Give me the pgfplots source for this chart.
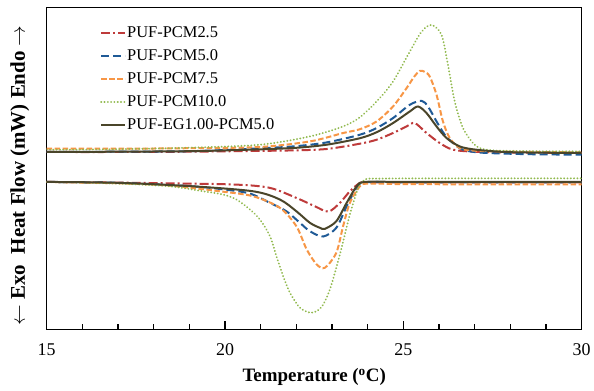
\documentclass[border=0pt]{standalone}
\usepackage{fontspec}
\setmainfont{Liberation Serif}
\usepackage{pgfplots}
\pgfplotsset{compat=1.18}
\definecolor{cred}{HTML}{BE3B3B}
\definecolor{cblue}{HTML}{1F5A96}
\definecolor{corange}{HTML}{F79646}
\definecolor{cgreen}{HTML}{92BA50}
\definecolor{colive}{HTML}{4A452A}
\begin{document}
\begin{tikzpicture}
\begin{axis}[
  at={(0,0)}, anchor=south west,
  scale only axis, width=535bp, height=322bp,
  xmin=15, xmax=30, ymin=60, ymax=382.7,
  xtick={15,20,25,30}, minor x tick num=4,
  ymajorticks=false,
  xtick pos=left,
  major tick length=8pt, minor tick length=5pt,
  tick style={black, line width=1.2pt},
  axis line style={line width=1.3bp, black},
  /pgf/number format/assume math mode=true,
  xticklabel style={font=\fontsize{18}{18}\selectfont, anchor=base, yshift=-26bp},
  xlabel={\textbf{Temperature (\textsuperscript{o}C)}},
  xlabel style={font=\fontsize{19}{19}\selectfont, at={(axis description cs:0.5,-0.149)}, anchor=center},
  ylabel={\textbf{$\leftarrow$ Exo\ \ Heat Flow (mW) Endo $\rightarrow$}},
  ylabel style={font=\fontsize{21}{21}\selectfont, at={(axis description cs:-0.05,0.478)}, anchor=center},
  legend image code/.code={\draw[#1] (0bp,0bp) -- (24bp,0bp);},
  legend cell align=left,
  legend style={draw=none, fill=none, at={(axis description cs:0.0996,0.943)}, anchor=north west,
    font=\fontsize{16.5}{16.5}\selectfont, row sep=8.5bp, inner sep=0pt,
    nodes={inner sep=1bp}},
  every axis plot/.append style={line width=2bp, smooth, tension=0.5},
]
% heating curves
\addplot[cred, dash pattern=on 9bp off 3bp on 2bp off 3bp] coordinates {
(15,237.7)(17,237.7)(19,238)(20.5,238.6)(21.91,239.3)(22.85,240.7)(23.78,246)(24.25,250)(24.71,256.7)(25.09,263.3)(25.32,266.7)(25.65,256.7)(26.02,246.7)(26.39,240)(27,238)(28,237.2)(30,236.7)};
\addlegendentry{PUF-PCM2.5}
\addplot[cblue, dash pattern=on 8bp off 4bp] coordinates {
(15,237.7)(17,238)(19,238.5)(20.5,240.5)(21.91,243.3)(22.85,247.3)(23.78,255)(24.25,261.7)(24.71,271.7)(25.18,285)(25.51,289)(25.69,283.3)(25.93,268.3)(26.16,255)(26.39,246.7)(26.67,240)(27.2,237)(28.5,235.5)(30,235)};
\addlegendentry{PUF-PCM5.0}
\addplot[corange, dash pattern=on 5.5bp off 2.5bp] coordinates {
(15,241)(17,241)(19,241.5)(20.98,242.7)(22.38,248.3)(23.31,256.7)(23.78,260.5)(24.25,268.3)(24.71,283.3)(25.09,301.7)(25.30,313)(25.46,319)(25.60,318)(25.74,313.3)(25.93,295)(26.11,268.3)(26.30,251.7)(26.58,241.7)(27,239)(28,238)(30,237.3)};
\addlegendentry{PUF-PCM7.5}
\addplot[cgreen, line cap=round, dash pattern=on 0.1bp off 3.2bp] coordinates {
(15,240)(17,240.5)(19,242)(20.98,245)(22.38,253.3)(23.31,263.3)(23.78,272.5)(24.25,288.3)(24.71,308.3)(25.18,338.3)(25.51,358.3)(25.79,365)(26.07,355)(26.25,325)(26.44,288.3)(26.67,261.7)(26.95,246.7)(27.14,241.7)(27.5,239.3)(28.5,238.5)(30,238.3)};
\addlegendentry{PUF-PCM10.0}
\addplot[colive] coordinates {
(15,237.7)(17,238)(19,238.5)(20.5,239.8)(21.91,241.7)(22.85,245)(23.78,251.5)(24.25,257.5)(24.71,266.7)(25.18,278.3)(25.41,283.3)(25.65,276.7)(25.93,263.3)(26.21,251.7)(26.58,243.3)(27.04,240)(28,237.5)(30,236.7)};
\addlegendentry{PUF-EG1.00-PCM5.0}
% cooling curves
\addplot[cred, dash pattern=on 9bp off 3bp on 2bp off 3bp] coordinates {
(15,207.7)(17,207)(18.45,206.3)(20.32,205)(21.26,201.7)(22.0,191.7)(22.52,183.3)(22.9,178)(23.22,186.7)(23.50,198.3)(23.78,206.7)(24,207.3)(25,207.3)(27,207.3)(30,207.3)};
\addplot[cblue, dash pattern=on 8bp off 4bp] coordinates {
(15,207.7)(17,206.8)(19,203.5)(20,200)(20.7,196)(21.26,186.7)(21.72,178.3)(22.10,166.7)(22.38,158.3)(22.75,153)(23.12,161.7)(23.41,183.3)(23.69,201.7)(23.95,207.3)(25,207.3)(27,207.3)(30,207.3)};
\addplot[corange, dash pattern=on 5.5bp off 2.5bp] coordinates {
(15,207.7)(17,206.3)(18.45,204)(19.86,198.3)(20.79,193.3)(21.54,181.7)(22.0,163.3)(22.29,140)(22.57,125)(22.80,121.7)(23.12,136.7)(23.31,163.3)(23.50,186.7)(23.78,203.3)(24.01,206)(25,205.5)(27,205.3)(30,205.3)};
\addplot[cgreen, line cap=round, dash pattern=on 0.1bp off 3.2bp] coordinates {
(15,207.7)(17,206)(18.45,203.3)(19.39,198.3)(19.95,195)(20.32,190)(20.70,180)(20.98,170)(21.26,153.3)(21.44,133.3)(21.63,113.3)(21.82,96.7)(22.10,81.7)(22.42,76.7)(22.70,82)(22.94,100)(23.22,135)(23.50,175)(23.75,203)(23.95,210.5)(24.3,211)(25,211.2)(27,211.3)(30,211.3)};
\addplot[colive] coordinates {
(15,207.7)(17,206.8)(19,203.5)(20.79,198.3)(21.54,190)(22.0,178.3)(22.38,166.7)(22.66,161.7)(22.80,160.7)(23.12,168.3)(23.41,186.7)(23.69,203.3)(23.92,207.7)(25,207.7)(27,207.7)(30,207.7)};
\end{axis}
\path (-46.7bp,-61bp) (547.3bp,329.3bp);
\end{tikzpicture}
\end{document}
